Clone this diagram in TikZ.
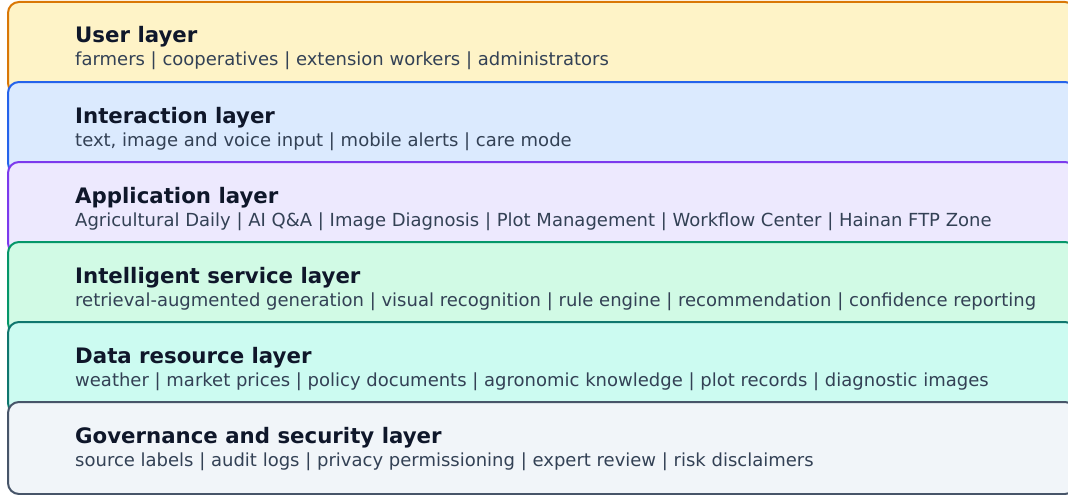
\documentclass[tikz,border=0pt]{standalone}
\usepackage{fontspec}
\setmainfont{DejaVu Sans}
\definecolor{uFill}{HTML}{FEF3C7}\definecolor{uLine}{HTML}{D97706}
\definecolor{iFill}{HTML}{DBEAFE}\definecolor{iLine}{HTML}{2563EB}
\definecolor{aFill}{HTML}{EDE9FE}\definecolor{aLine}{HTML}{7C3AED}
\definecolor{sFill}{HTML}{D1FAE5}\definecolor{sLine}{HTML}{059669}
\definecolor{dFill}{HTML}{CCFBF1}\definecolor{dLine}{HTML}{0F766E}
\definecolor{gFill}{HTML}{F1F5F9}\definecolor{gLine}{HTML}{475569}
\definecolor{titleCol}{HTML}{0F172A}
\definecolor{subCol}{HTML}{334155}
\tikzset{
  layerbox/.style={rectangle, rounded corners=11pt, line width=2pt,
    minimum width=1068pt, minimum height=92pt, anchor=north west, inner sep=0pt},
  layertitle/.style={anchor=base west, inner sep=0pt, text=titleCol,
    font=\fontsize{21.3}{25}\selectfont\bfseries},
  layersub/.style={anchor=base west, inner sep=0pt, text=subCol,
    font=\fontsize{18}{21}\selectfont},
}
\begin{document}
\begin{tikzpicture}[x=1pt,y=-1pt]
\useasboundingbox (0,0) rectangle (1068,495);
\begin{scope}
\clip (0,0) rectangle (1068,495);
\node[layerbox, fill=uFill, draw=uLine] (user) at (7,1) {};
\node[layertitle] (userT) at (75,43) {User layer};
\node[layersub] (userS) at (75,66) {farmers | cooperatives | extension workers | administrators};

\node[layerbox, fill=iFill, draw=iLine] (inter) at (7,81) {};
\node[layertitle] (interT) at (75,123) {Interaction layer};
\node[layersub] (interS) at (75,146) {text, image and voice input | mobile alerts | care mode};

\node[layerbox, fill=aFill, draw=aLine] (app) at (7,161) {};
\node[layertitle] (appT) at (75,203) {Application layer};
\node[layersub] (appS) at (75,226) {Agricultural Daily | AI Q\&A | Image Diagnosis | Plot Management | Workflow Center | Hainan FTP Zone};

\node[layerbox, fill=sFill, draw=sLine] (svc) at (7,241) {};
\node[layertitle] (svcT) at (75,283) {Intelligent service layer};
\node[layersub] (svcS) at (75,306) {retrieval-augmented generation | visual recognition | rule engine | recommendation | confidence reporting};

\node[layerbox, fill=dFill, draw=dLine] (data) at (7,321) {};
\node[layertitle] (dataT) at (75,363) {Data resource layer};
\node[layersub] (dataS) at (75,386) {weather | market prices | policy documents | agronomic knowledge | plot records | diagnostic images};

\node[layerbox, fill=gFill, draw=gLine] (gov) at (7,401) {};
\node[layertitle] (govT) at (75,443) {Governance and security layer};
\node[layersub] (govS) at (75,466) {source labels | audit logs | privacy permissioning | expert review | risk disclaimers};
\end{scope}
\end{tikzpicture}
\end{document}
